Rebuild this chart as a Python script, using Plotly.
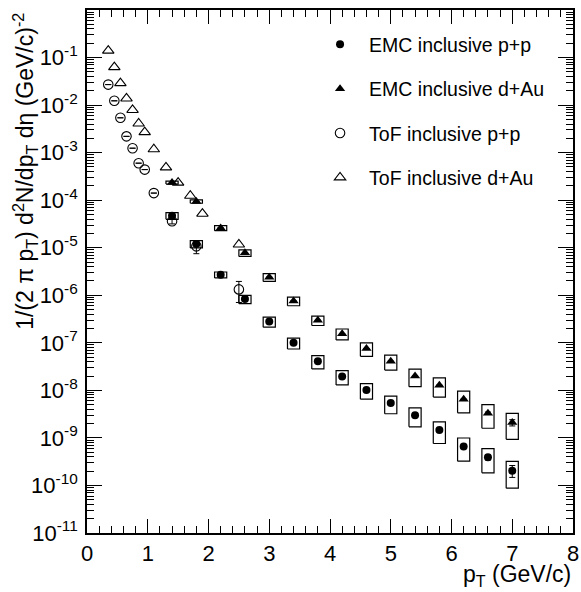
import plotly.graph_objects as go

# ---------------- data ----------------
pt_emc = [1.4, 1.8, 2.2, 2.6, 3.0, 3.4, 3.8, 4.2, 4.6, 5.0, 5.4, 5.8, 6.2, 6.6, 7.0]
emc_pp = [4.7e-5, 1.2e-5, 2.7e-6, 8.3e-7, 2.8e-7, 1.0e-7, 4.1e-8, 1.95e-8, 1.02e-8,
          5.4e-9, 3.0e-9, 1.47e-9, 6.6e-10, 3.9e-10, 2.05e-10]
emc_pp_stat = [0, 0, 0, 0, 0, 0, 0, 0, 0, 0, 0, 0, 0.08, 0.12, 0.28]   # relative
emc_pp_sys = [0.16, 0.174, 0.144, 0.198, 0.237, 0.259, 0.31, 0.332, 0.361,
              0.403, 0.429, 0.481, 0.51, 0.527, 0.573]                  # relative
emc_dau = [2.35e-4, 9.4e-5, 2.6e-5, 7.8e-6, 2.4e-6, 7.6e-7, 2.97e-7, 1.55e-7, 7.6e-8,
           4.1e-8, 2.0e-8, 1.28e-8, 6.5e-9, 3.3e-9, 2.1e-9]
emc_dau_stat = [0, 0, 0, 0, 0, 0, 0, 0, 0, 0, 0, 0, 0, 0.06, 0.15]
emc_dau_sys = [0.072, 0.084, 0.12, 0.16, 0.184, 0.207, 0.221, 0.259, 0.315,
               0.347, 0.403, 0.435, 0.481, 0.516, 0.556]
sys_halfwidth = 0.1

pt_tof_pp = [0.35, 0.45, 0.55, 0.65, 0.75, 0.85, 0.95, 1.1, 1.4, 1.8, 2.5]
tof_pp = [0.027, 0.0123, 0.0054, 0.0022, 0.00124, 0.0006, 0.00044, 0.000141,
          3.6e-5, 1.07e-5, 1.33e-6]
tof_pp_stat = [0, 0, 0, 0, 0, 0, 0, 0, 0.12, 0.3, 0.47]

pt_tof_dau = [0.35, 0.45, 0.55, 0.65, 0.75, 0.85, 0.95, 1.1, 1.3, 1.5, 1.7, 1.9, 2.5]
tof_dau = [0.14, 0.063, 0.029, 0.0138, 0.0079, 0.0041, 0.0027, 0.00118, 0.00049,
           0.000234, 0.000124, 5.2e-5, 1.17e-5]

names = ["EMC inclusive p+p", "EMC inclusive d+Au", "ToF inclusive p+p", "ToF inclusive d+Au"]

y_decades = list(range(0, -12, -1))
y_ticktext = ["1"] + ["10<sup>-%d</sup>" % (-d) for d in y_decades[1:]]
x_ticks = [0, 1, 2, 3, 4, 5, 6, 7, 8]

FONT = "Liberation Sans, Arial, Helvetica, sans-serif"

fig = go.Figure()


def box_path(xs, ys, rel):
    bx, by = [], []
    for x, y, r in zip(xs, ys, rel):
        x0, x1 = x - sys_halfwidth, x + sys_halfwidth
        y0, y1 = y * (1 - r), y * (1 + r)
        bx += [x0, x1, x1, x0, x0, None]
        by += [y0, y0, y1, y1, y0, None]
    return bx, by


for ys, rel in [(emc_pp, emc_pp_sys), (emc_dau, emc_dau_sys)]:
    bx, by = box_path(pt_emc, ys, rel)
    fig.add_trace(go.Scatter(x=bx, y=by, mode="lines", line=dict(color="black", width=1.2),
                             showlegend=False, hoverinfo="skip"))


def abs_err(vals, rel):
    return [v * r for v, r in zip(vals, rel)]


fig.add_trace(go.Scatter(
    x=pt_tof_pp, y=tof_pp, mode="markers", name=names[2], legendgroup="c", legendrank=3,
    marker=dict(symbol="circle-open", size=9.5, color="black", line=dict(width=1.1)),
    error_y=dict(type="data", array=abs_err(tof_pp, tof_pp_stat), color="black",
                 thickness=1, width=3)))
fig.add_trace(go.Scatter(
    x=pt_tof_dau, y=tof_dau, mode="markers", name=names[3], legendgroup="d", legendrank=4,
    marker=dict(symbol="triangle-up-open", size=10, color="black", line=dict(width=1.1))))
fig.add_trace(go.Scatter(
    x=pt_emc, y=emc_pp, mode="markers", name=names[0], legendgroup="a", legendrank=1,
    marker=dict(symbol="circle", size=8, color="black"),
    error_y=dict(type="data", array=abs_err(emc_pp, emc_pp_stat), color="black",
                 thickness=1, width=3)))
fig.add_trace(go.Scatter(
    x=pt_emc, y=emc_dau, mode="markers", name=names[1], legendgroup="b", legendrank=2,
    marker=dict(symbol="triangle-up", size=9, color="black"),
    error_y=dict(type="data", array=abs_err(emc_dau, emc_dau_stat), color="black",
                 thickness=1, width=3)))

minor_y = [m * 10 ** d for d in range(-11, 0) for m in range(2, 10)]

fig.update_layout(
    width=581, height=592,
    margin=dict(l=87, r=8, t=10, b=59, autoexpand=False),
    paper_bgcolor="white", plot_bgcolor="white",
    font=dict(family=FONT, size=20, color="black"),
    showlegend=True,
    legend=dict(x=0.461, y=0.971, xanchor="left", yanchor="top",
                traceorder="grouped", tracegroupgap=16, itemwidth=48,
                bgcolor="rgba(0,0,0,0)", font=dict(size=19.5, family=FONT)),
    xaxis=dict(range=[0, 8], tickvals=x_ticks, ticks="inside", ticklen=14, tickwidth=1,
               tickcolor="black", showline=True, linecolor="black", linewidth=1.6,
               mirror="ticks", showgrid=False, zeroline=False, automargin=False,
               tickfont=dict(size=22, family=FONT),
               minor=dict(dtick=0.2, ticks="inside", ticklen=7, tickwidth=1,
                          tickcolor="black", showgrid=False)),
    yaxis=dict(type="log", range=[-11, 0],
               tickvals=[10 ** d for d in y_decades], ticktext=y_ticktext,
               ticks="inside", ticklen=15, tickwidth=1, tickcolor="black",
               showline=True, linecolor="black", linewidth=1.6, mirror="ticks",
               showgrid=False, zeroline=False, automargin=False,
               ticklabelstandoff=3, tickfont=dict(size=22, family=FONT),
               minor=dict(tickmode="array", tickvals=minor_y, ticks="inside", ticklen=7,
                          tickwidth=1, tickcolor="black", showgrid=False)),
)

fig.add_annotation(
    text="1/(2 \u03c0 p<sub>T</sub>) d<sup>2</sup>N/dp<sub>T</sub> d\u03b7 (GeV/c)<sup>-2</sup>",
    xref="paper", yref="paper", x=-0.129, y=0.998, xanchor="center", yanchor="top",
    textangle=-90, showarrow=False, font=dict(size=23, family=FONT))
fig.add_annotation(
    text="p<sub>T</sub> (GeV/c)", xref="paper", yref="paper", x=1.0, y=-0.082,
    xanchor="right", yanchor="middle", showarrow=False, font=dict(size=23, family=FONT))

fig.write_html("out.html", config={"displayModeBar": False},
               post_script="document.body.style.margin='0';document.body.style.overflow='hidden';")
